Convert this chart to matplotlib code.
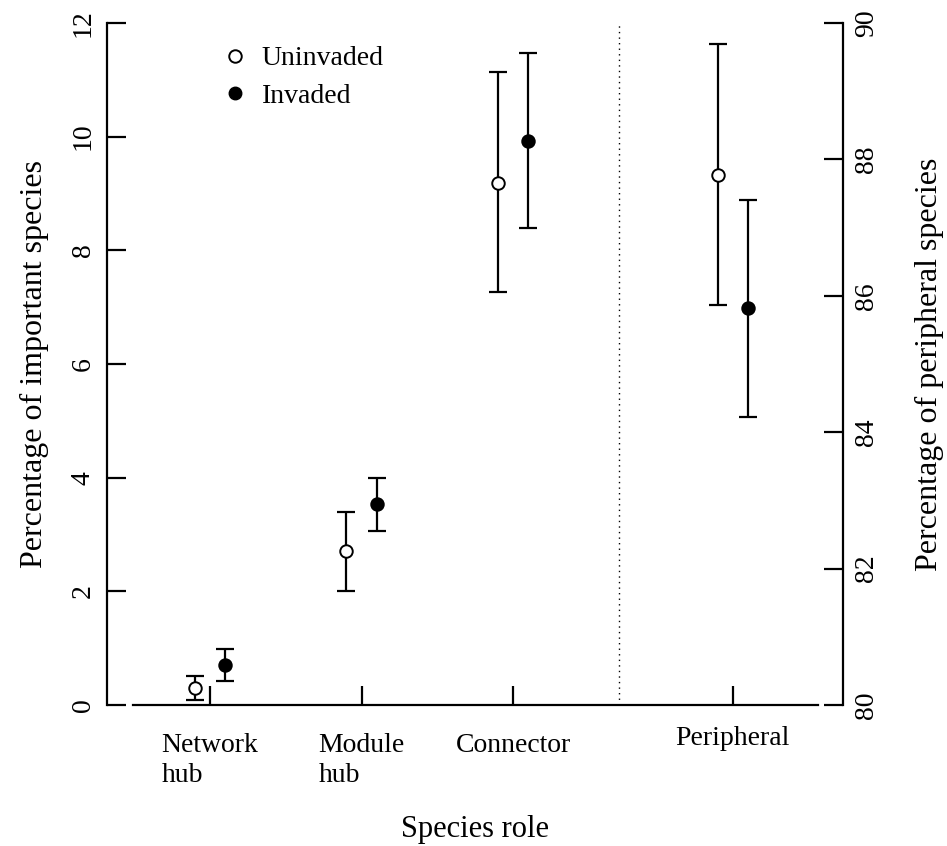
import matplotlib
matplotlib.use("Agg")
import matplotlib.pyplot as plt
from matplotlib.lines import Line2D
import matplotlib.transforms as mtransforms

plt.rcParams['font.family'] = ['Liberation Serif', 'DejaVu Serif']

# ---- data ----
roles = ["Network\nhub", "Module\nhub", "Connector", "Peripheral"]
role_pos = [1.0, 2.0, 3.0, 4.45]
offset = 0.1

# important species (left axis): Network hub, Module hub, Connector
unin_mean = [0.30, 2.71, 9.19]
unin_lo = [0.08, 2.01, 7.27]
unin_hi = [0.51, 3.39, 11.13]
inv_mean = [0.70, 3.53, 9.93]
inv_lo = [0.42, 3.06, 8.39]
inv_hi = [0.99, 3.99, 11.48]

# peripheral species (right axis)
per_unin_mean, per_unin_lo, per_unin_hi = 87.77, 85.86, 89.69
per_inv_mean, per_inv_lo, per_inv_hi = 85.82, 84.22, 87.41

W, H = 947, 846
fig = plt.figure(figsize=(W / 100, H / 100), dpi=100)
ax = fig.add_axes([107 / W, (H - 705) / H, (843 - 107) / W, (705 - 23) / H])
ax2 = ax.twinx()

ax.set_ylim(0, 12)
ax2.set_ylim(80, 90)
ax.set_xlim(0.32, 5.178)

lw = 1.6
cap = 6.5
ms = 9

def draw(a, x, m, lo, hi, filled):
    yerr = [[m - lo], [hi - m]]
    a.errorbar([x], [m], yerr=yerr, fmt='none', ecolor='black',
               elinewidth=lw, capsize=cap, capthick=lw, zorder=2)
    a.plot([x], [m], 'o', ms=ms, mfc='black' if filled else 'white',
           mec='black', mew=1.4, zorder=3)

for i in range(3):
    draw(ax, role_pos[i] - offset, unin_mean[i], unin_lo[i], unin_hi[i], False)
    draw(ax, role_pos[i] + offset, inv_mean[i], inv_lo[i], inv_hi[i], True)

draw(ax2, role_pos[3] - offset, per_unin_mean, per_unin_lo, per_unin_hi, False)
draw(ax2, role_pos[3] + offset, per_inv_mean, per_inv_lo, per_inv_hi, True)

ax.axvline(3.7, color='black', lw=1.0, ls=(0, (1, 3)), zorder=1)

# spines
for a in (ax, ax2):
    a.spines['top'].set_visible(False)
ax.spines['right'].set_visible(False)
ax2.spines['left'].set_visible(False)
ax2.spines['bottom'].set_visible(False)
ax.spines['bottom'].set_bounds(0.49, 5.01)
for sp in (ax.spines['left'], ax.spines['bottom'], ax2.spines['right']):
    sp.set_linewidth(1.6)

fs = 20
lfs = 22
ax.set_xticks(role_pos)
ax.set_xticklabels(roles, fontsize=fs, multialignment='left', va='top', linespacing=1.3)
ax.tick_params(axis='x', direction='in', length=14, width=1.6, pad=20)
ax.set_yticks(range(0, 13, 2))
ax.tick_params(axis='y', direction='in', length=14, width=1.6, pad=8, labelsize=fs)
for lab in ax.get_yticklabels():
    lab.set_rotation(90)
    lab.set_va('center')
ax2.set_yticks(range(80, 91, 2))
ax2.tick_params(axis='y', direction='in', length=14, width=1.6, pad=8, labelsize=fs)
for lab in ax2.get_yticklabels():
    lab.set_rotation(90)
    lab.set_va('center')

# lift "Peripheral" slightly
lab = ax.get_xticklabels()[3]
lab.set_transform(lab.get_transform() + mtransforms.ScaledTranslation(0, 7 / 100, fig.dpi_scale_trans))

ax.set_xlabel("Species role", fontsize=lfs, labelpad=19)
ax.set_ylabel("Percentage of important species", fontsize=23, labelpad=16)
ax2.set_ylabel("Percentage of peripheral species", fontsize=23, labelpad=26)

handles = [Line2D([], [], ls='none', marker='o', ms=ms, mfc='white', mec='black', mew=1.4),
           Line2D([], [], ls='none', marker='o', ms=ms, mfc='black', mec='black')]
ax.legend(handles, ["Uninvaded", "Invaded"], loc='upper left',
          bbox_to_anchor=(221 / W, (H - 46) / H), bbox_transform=fig.transFigure,
          frameon=False, fontsize=fs, handletextpad=0.47, labelspacing=0.42,
          handlelength=1.0, borderaxespad=0, borderpad=0)

fig.savefig("out.png", dpi=100)
